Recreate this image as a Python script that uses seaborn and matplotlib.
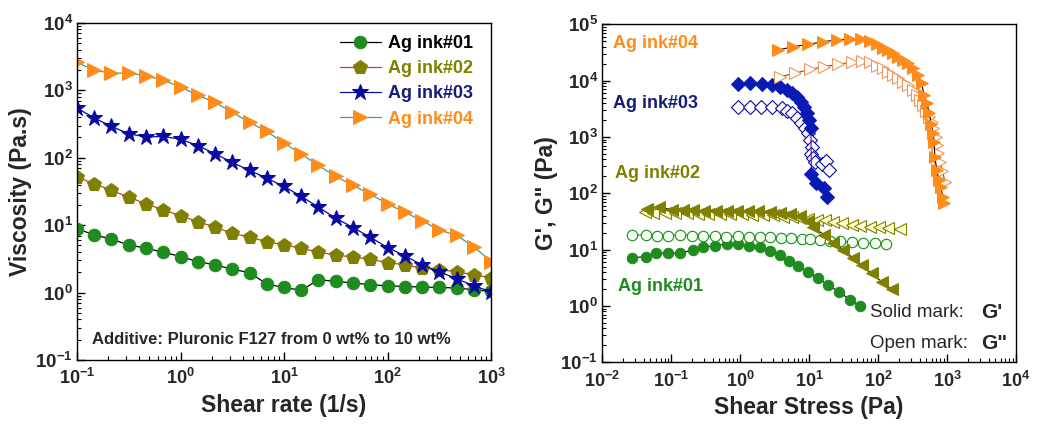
import numpy as np
import pandas as pd
import matplotlib
matplotlib.use("Agg")
import matplotlib.pyplot as plt
import seaborn as sns
from matplotlib.ticker import LogLocator, NullFormatter

# ---- left panel: viscosity vs shear rate ----
shear_rate = [0.1, 0.147, 0.215, 0.316, 0.464, 0.681, 1.0, 1.47, 2.15, 3.16, 4.64, 6.81,
              10, 14.7, 21.5, 31.6, 46.4, 68.1, 100, 147, 215, 316, 464, 681, 1000]
visc_ink01 = [8.8, 7.2, 6.2, 5.1, 4.55, 3.97, 3.43, 2.88, 2.58, 2.22, 1.98, 1.34, 1.19,
              1.08, 1.55, 1.47, 1.39, 1.31, 1.26, 1.23, 1.21, 1.19, 1.17, 1.1, 1.04]
visc_ink02 = [51.6, 41.1, 32.7, 26.1, 20.7, 16.9, 13.8, 11.3, 9.34, 7.6, 6.63, 5.72, 5.1,
              4.55, 3.97, 3.62, 3.35, 3.13, 2.79, 2.58, 2.3, 2.17, 2.05, 1.83, 1.67]
visc_ink03 = [547, 388, 292, 227, 203, 207, 189, 151, 115, 85.3, 64.9, 49.9, 37.5, 26.7,
              18.5, 12.7, 9.23, 6.63, 4.66, 3.51, 2.58, 2.05, 1.6, 1.27, 1.02]
visc_ink04 = [2600, 1980, 1800, 1800, 1650, 1410, 1120, 843, 664, 471, 335, 246, 165, 113,
              76.9, 52.8, 38.8, 28.9, 20.7, 15.6, 11.6, 8.53, 7.03, 4.82, 2.88]

# ---- right panel: G', G'' vs shear stress ----
stress_g1_ink01 = [0.0272, 0.0426, 0.0594, 0.0906, 0.134, 0.205, 0.292, 0.431, 0.637, 0.938,
                   1.34, 1.94, 2.7, 3.78, 5.1, 6.97, 9.73, 13.6, 19.0, 27.1, 39.1, 54.6]
g1_ink01 = [7.2, 7.5, 8.6, 8.6, 8.6, 9.9, 11.0, 11.8, 12.6, 12.5, 11.5, 11.0, 9.6, 8.0, 6.4,
            5.1, 4.0, 3.1, 2.33, 1.78, 1.3, 1.0]
stress_g2_ink01 = [0.0272, 0.0426, 0.0615, 0.0906, 0.134, 0.198, 0.285, 0.431, 0.62, 0.938,
                   1.34, 1.94, 2.7, 3.9, 5.46, 7.8, 10.3, 14.4, 20, 28, 41.4, 61, 90, 129]
g2_ink01 = [17.9, 18.5, 17.5, 17.8, 18.5, 17.8, 17.5, 17.2, 17.0, 17.2, 17.0, 17.0, 16.5,
            16.2, 15.8, 15.5, 15.5, 14.8, 14.2, 14.0, 13.5, 13.2, 13.0, 12.8]

stress_g1_ink02 = [0.044, 0.067, 0.101, 0.15, 0.209, 0.301, 0.442, 0.637, 0.889, 1.31, 1.83,
                   2.7, 3.78, 5.28, 7.37, 9.5, 11.5, 16.4, 22.4, 31.3, 43.7, 57.8, 80.7, 113, 157]
g1_ink02 = [52.6, 57.8, 50.4, 50.4, 50.4, 49.1, 49.1, 49.1, 48.5, 48.5, 48.5, 47.1, 45.2,
            42.4, 39.5, 32.0, 25.5, 18.2, 13.3, 9.85, 7.0, 5.33, 3.8, 2.69, 1.98]
stress_g2_ink02 = [0.0416, 0.055, 0.0811, 0.113, 0.167, 0.247, 0.344, 0.509, 0.712, 1.05, 1.47,
                   2.16, 3.02, 4.22, 5.58, 7.37, 9.73, 12.9, 17.0, 22.4, 29.6, 41.4, 54.6, 76.4,
                   104, 141, 208]
g2_ink02 = [46, 45, 44.5, 44, 44, 43.5, 43.5, 43, 43, 42.5, 42, 41.5, 40.5, 38.4, 38.4, 35.9,
            35, 33.6, 33.6, 31.3, 29.3, 27.4, 26.6, 25.5, 24.9, 23.9, 22.9]

stress_g1_ink03 = [0.94, 1.39, 2.05, 2.86, 3.78, 4.72, 5.58, 6.59, 7.54, 8.42, 9.4, 10.1, 10.6,
                   10.8, 12.6, 16.5, 17.9]
g1_ink03 = [8710, 8970, 8710, 8360, 7620, 6820, 5960, 5190, 4230, 3440, 2630, 2000, 1430,
            220, 155, 125, 87]
stress_g2_ink03 = [0.94, 1.39, 2.0, 2.86, 4.0, 4.72, 5.58, 6.59, 7.62, 8.7, 9.5, 10.3, 10.9,
                   10.6, 11.2, 12.2, 15.5, 17.8, 19.5]
g2_ink03 = [3450, 3450, 3450, 3450, 3230, 2930, 2630, 2140, 1750, 1430, 1160, 883, 671, 500,
            418, 364, 330, 380, 260]

stress_g1_ink04 = [3.57, 5.89, 9.73, 16.0, 25.1, 39.1, 56.0, 76.4, 95.5, 119, 141, 166, 196,
                   232, 274, 324, 383, 430, 463, 510, 553, 590, 631, 650, 668, 708, 760, 809,
                   865, 903]
g1_ink04 = [35000, 40100, 44200, 49100, 52600, 54800, 54800, 50600, 44200, 38500, 35000, 30600,
            26600, 23200, 20300, 16600, 12600, 9000, 5560, 4000, 2630, 1700, 1160, 800, 447,
            259, 170, 131, 87, 66]
stress_g2_ink04 = [3.78, 6.23, 10.3, 16.4, 26.5, 41.4, 57.8, 76.4, 95.5, 119, 141, 166, 196,
                   232, 274, 324, 363, 406, 452, 495, 553, 598, 631, 686, 708, 747, 790, 860, 933]
g2_ink04 = [11700, 13500, 15900, 17700, 19500, 21200, 22300, 21200, 18400, 16600, 14400, 12600,
            11000, 9580, 8360, 6820, 5560, 4530, 3690, 2890, 2290, 1870, 1430, 1010, 719, 513,
            364, 250, 161]

labels = ["Ag ink#01", "Ag ink#02", "Ag ink#03", "Ag ink#04"]

green = "#1E8C1E"
olive = "#808000"
navy = "#0A0AA0"
orange = "#FF8C1A"

sns.set_theme(style="ticks")
plt.rcParams["font.family"] = ["Liberation Sans", "DejaVu Sans"]
plt.rcParams["font.weight"] = "bold"
plt.rcParams["mathtext.fontset"] = "custom"
plt.rcParams["mathtext.rm"] = "Liberation Sans:bold"
plt.rcParams["mathtext.it"] = "Liberation Sans:bold"
plt.rcParams["mathtext.bf"] = "Liberation Sans:bold"

fig = plt.figure(figsize=(10.37, 4.33), dpi=100)
ax1 = fig.add_axes([0.0743, 0.1686, 0.3992, 0.7784])
ax2 = fig.add_axes([0.5808, 0.1633, 0.3989, 0.7806])


def style_axis(ax):
    ax.set_xscale("log")
    ax.set_yscale("log")
    for s in ax.spines.values():
        s.set_linewidth(1.0)
        s.set_color("black")
    ax.xaxis.set_major_locator(LogLocator(base=10, numticks=20))
    ax.yaxis.set_major_locator(LogLocator(base=10, numticks=20))
    ax.xaxis.set_minor_locator(LogLocator(base=10, subs=np.arange(2, 10), numticks=20))
    ax.yaxis.set_minor_locator(LogLocator(base=10, subs=np.arange(2, 10), numticks=20))
    ax.xaxis.set_minor_formatter(NullFormatter())
    ax.yaxis.set_minor_formatter(NullFormatter())
    ax.tick_params(which="both", direction="in", top=False, right=False, color="black")
    ax.tick_params(which="major", length=6, width=1)
    ax.tick_params(which="minor", length=3, width=0.8)
    ax.tick_params(axis="y", labelsize=13.5, pad=3)
    ax.tick_params(axis="x", labelsize=13, pad=6)


# left panel
ms = 9
sns.lineplot(x=shear_rate, y=visc_ink01, ax=ax1, color="black", lw=0.9, marker="o",
             markersize=ms, markerfacecolor=green, markeredgecolor=green, label=labels[0],
             estimator=None, sort=False)
sns.lineplot(x=shear_rate, y=visc_ink02, ax=ax1, color="#C83C3C", lw=0.9, marker="p",
             markersize=ms + 1, markerfacecolor=olive, markeredgecolor=olive, label=labels[1],
             estimator=None, sort=False)
sns.lineplot(x=shear_rate, y=visc_ink03, ax=ax1, color=navy, lw=0.9, marker="*",
             markersize=ms + 3, markerfacecolor=navy, markeredgecolor=navy, label=labels[2],
             estimator=None, sort=False)
sns.lineplot(x=shear_rate, y=visc_ink04, ax=ax1, color="#3C9C9C", lw=0.9, marker=">",
             markersize=ms + 1, markerfacecolor=orange, markeredgecolor=orange, label=labels[3],
             estimator=None, sort=False)

style_axis(ax1)
ax1.set_xlim(0.1, 1000)
ax1.set_ylim(0.1, 10000)
ax1.set_xlabel("Shear rate (1/s)", fontsize=16.5, fontweight="bold", labelpad=4)
ax1.set_ylabel("Viscosity (Pa.s)", fontsize=16.5, fontweight="bold", labelpad=2)
leg = ax1.legend(loc="upper right", bbox_to_anchor=(0.975, 0.985), frameon=False,
                 prop={"weight": "bold", "size": 13}, handlelength=2.3, handletextpad=0.4,
                 labelspacing=0.45, borderaxespad=0)
for t, c in zip(leg.get_texts(), ["black", olive, "#141E78", orange]):
    t.set_color(c)
ax1.text(0.036, 0.06, "Additive: Pluronic F127 from 0 wt% to 10 wt%", transform=ax1.transAxes,
         fontsize=12, fontweight="bold", va="center", ha="left")

# right panel
ms2 = 7.5
sns.lineplot(x=stress_g1_ink01, y=g1_ink01, ax=ax2, color="black", lw=0.8, marker="o",
             markersize=ms2, markerfacecolor=green, markeredgecolor=green,
             estimator=None, sort=False)
sns.lineplot(x=stress_g2_ink01, y=g2_ink01, ax=ax2, color=green, lw=0.8, marker="o",
             markersize=ms2, markerfacecolor="#F4FFF0", markeredgecolor=green, markeredgewidth=0.8,
             estimator=None, sort=False)
sns.lineplot(x=stress_g2_ink02, y=g2_ink02, ax=ax2, color="#4A4A00", lw=0.8, marker="<",
             markersize=ms2 + 1, markerfacecolor="#FFFFD0", markeredgecolor=olive, markeredgewidth=0.8,
             estimator=None, sort=False)
sns.lineplot(x=stress_g1_ink02, y=g1_ink02, ax=ax2, color="black", lw=0.8, marker="<",
             markersize=ms2 + 1, markerfacecolor=olive, markeredgecolor=olive,
             estimator=None, sort=False)
sns.lineplot(x=stress_g2_ink03, y=g2_ink03, ax=ax2, color=navy, lw=0.8, marker="D",
             markersize=ms2 - 0.5, markerfacecolor="white", markeredgecolor=navy, markeredgewidth=0.8,
             estimator=None, sort=False)
sns.lineplot(x=stress_g1_ink03, y=g1_ink03, ax=ax2, color="#800080", lw=0.8, marker="D",
             markersize=ms2 - 0.5, markerfacecolor="#0A1AB4", markeredgecolor="#0A1AB4",
             estimator=None, sort=False)
sns.lineplot(x=stress_g2_ink04, y=g2_ink04, ax=ax2, color="#8B4513", lw=0.8, marker=">",
             markersize=ms2 + 1, markerfacecolor="white", markeredgecolor="#F0965A", markeredgewidth=0.8,
             estimator=None, sort=False)
sns.lineplot(x=stress_g1_ink04, y=g1_ink04, ax=ax2, color="black", lw=0.8, marker=">",
             markersize=ms2 + 1, markerfacecolor=orange, markeredgecolor=orange,
             estimator=None, sort=False)

style_axis(ax2)
ax2.set_xlim(0.01, 10000)
ax2.set_ylim(0.1, 100000)
ax2.set_xlabel("Shear Stress (Pa)", fontsize=16.5, fontweight="bold", labelpad=4)
ax2.set_ylabel("G', G\" (Pa)", fontsize=16.5, fontweight="bold", labelpad=2)

ax2.text(0.025, 0.942, labels[3], color=orange, transform=ax2.transAxes, fontsize=13,
         fontweight="bold", va="center")
ax2.text(0.026, 0.767, labels[2], color="#141E78", transform=ax2.transAxes, fontsize=13,
         fontweight="bold", va="center")
ax2.text(0.031, 0.56, labels[1], color=olive, transform=ax2.transAxes, fontsize=13,
         fontweight="bold", va="center")
ax2.text(0.037, 0.223, labels[0], color=green, transform=ax2.transAxes, fontsize=13,
         fontweight="bold", va="center")
ax2.text(0.647, 0.146, "Solid mark:", transform=ax2.transAxes, fontsize=13.5,
         fontweight="normal", va="center")
ax2.text(0.917, 0.146, "G'", transform=ax2.transAxes, fontsize=15, fontweight="bold", va="center")
ax2.text(0.647, 0.057, "Open mark:", transform=ax2.transAxes, fontsize=13.5,
         fontweight="normal", va="center")
ax2.text(0.917, 0.057, "G\"", transform=ax2.transAxes, fontsize=15, fontweight="bold", va="center")

fig.savefig("out.png", dpi=100, facecolor="white")
